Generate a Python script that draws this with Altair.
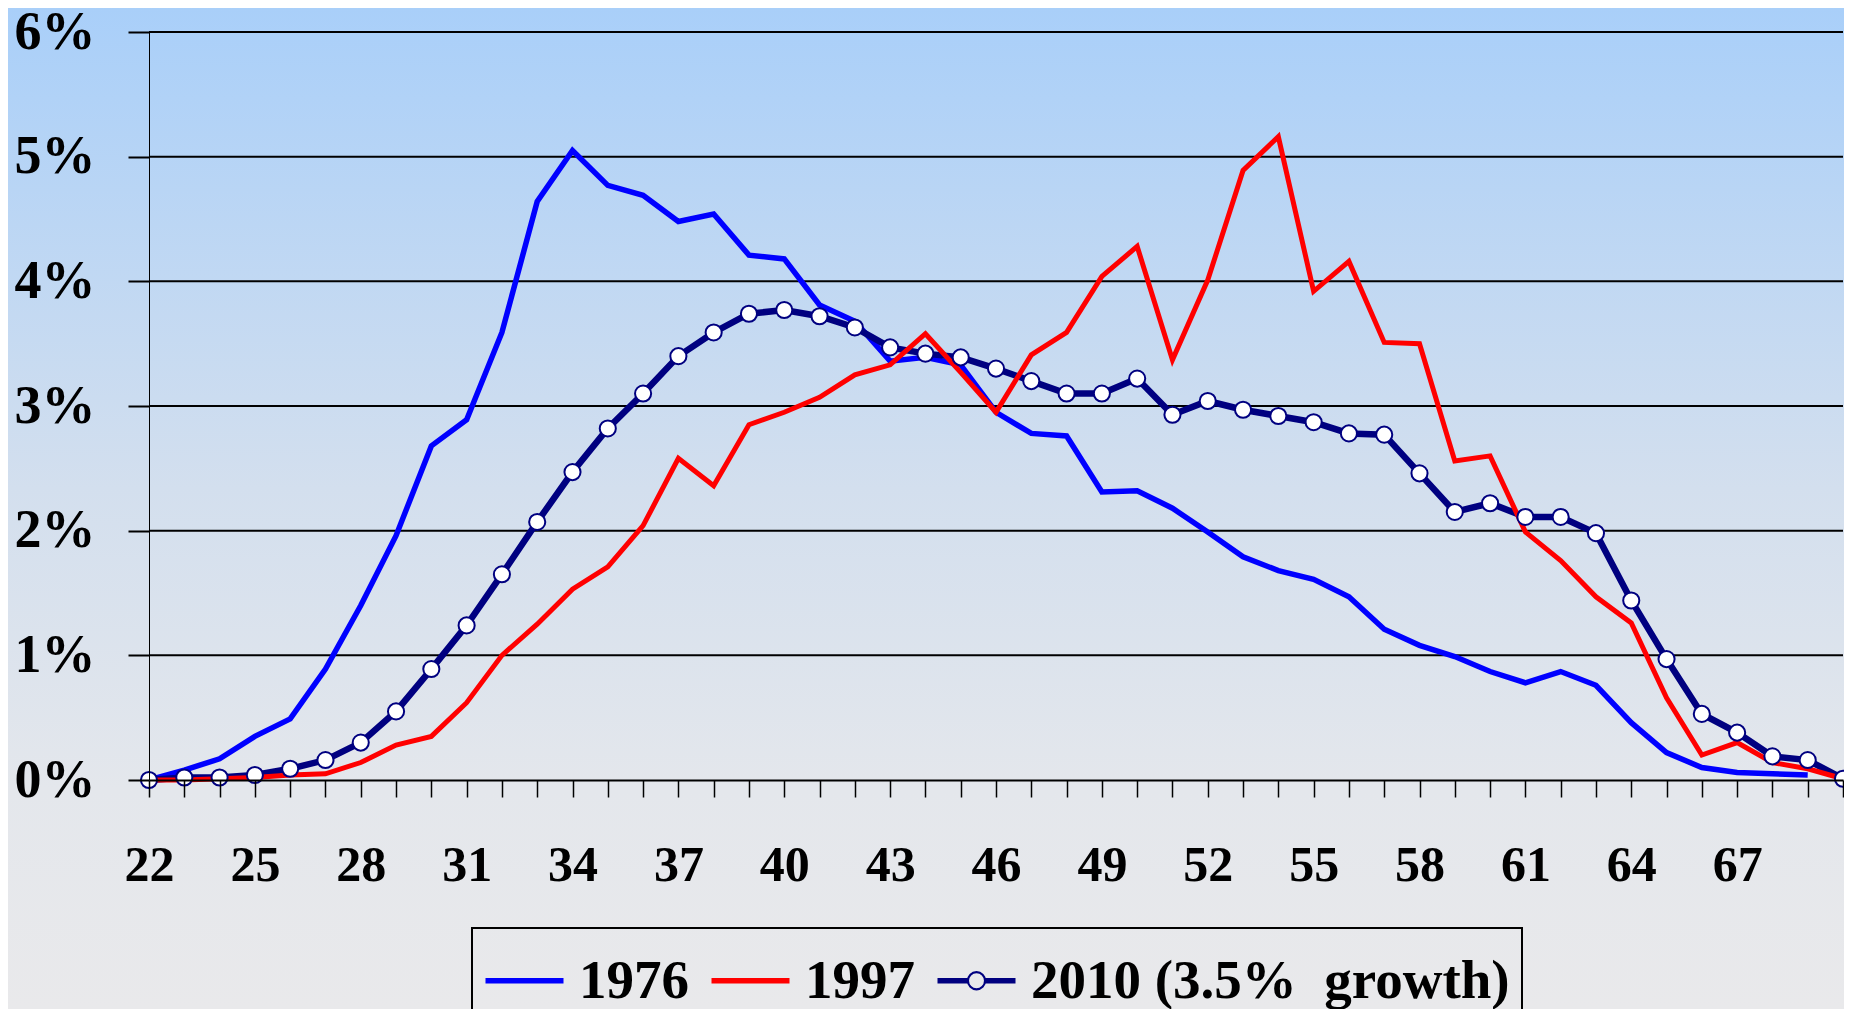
import altair as alt
import pandas as pd

ages_1976 = list(range(22, 70))
ages_all = list(range(22, 71))

v1976 = [0.0, 0.08, 0.17, 0.35, 0.49, 0.89, 1.40, 1.96, 2.68, 2.89, 3.59, 4.64, 5.05, 4.77,
         4.69, 4.48, 4.54, 4.21, 4.18, 3.81, 3.68, 3.36, 3.39, 3.33, 2.95, 2.78, 2.76, 2.31,
         2.32, 2.18, 1.99, 1.79, 1.68, 1.61, 1.47, 1.21, 1.08, 0.99, 0.87, 0.78, 0.87, 0.76,
         0.46, 0.22, 0.10, 0.06, 0.05, 0.04]
v1997 = [0.0, 0.0, 0.01, 0.02, 0.04, 0.05, 0.14, 0.28, 0.35, 0.62, 1.00, 1.25, 1.53, 1.71,
         2.04, 2.58, 2.36, 2.85, 2.95, 3.07, 3.25, 3.33, 3.58, 3.27, 2.95, 3.41, 3.59, 4.04,
         4.28, 3.37, 4.01, 4.89, 5.16, 3.92, 4.16, 3.51, 3.50, 2.56, 2.60, 1.99, 1.76, 1.47,
         1.26, 0.66, 0.20, 0.30, 0.14, 0.09, 0.01]
v2010 = [0.0, 0.02, 0.02, 0.04, 0.09, 0.16, 0.30, 0.55, 0.89, 1.24, 1.65, 2.07, 2.47, 2.82,
         3.10, 3.40, 3.59, 3.74, 3.77, 3.72, 3.63, 3.47, 3.42, 3.39, 3.30, 3.20, 3.10, 3.10,
         3.22, 2.93, 3.04, 2.97, 2.92, 2.87, 2.78, 2.77, 2.46, 2.15, 2.22, 2.11, 2.11, 1.98,
         1.44, 0.97, 0.53, 0.38, 0.19, 0.16, 0.01]

names = ["1976", "1997", "2010 (3.5%\u00a0 growth)"]
colors = ["#0000FF", "#FF0000", "#000080"]
y_ticks = [0, 1, 2, 3, 4, 5, 6]

rows = []
for a, v in zip(ages_1976, v1976):
    rows.append({"series": names[0], "age": a, "value": v})
for a, v in zip(ages_all, v1997):
    rows.append({"series": names[1], "age": a, "value": v})
for a, v in zip(ages_all, v2010):
    rows.append({"series": names[2], "age": a, "value": v})
df = pd.DataFrame(rows)

FONT = "Liberation Serif"
W, H = 1694, 748
PAD = {"left": 141, "top": 24, "right": 1, "bottom": 229}

xs = alt.Scale(domain=[22, 70], nice=False, zero=False)
ys = alt.Scale(domain=[0, 6], nice=False, zero=False)
cs = alt.Scale(domain=names, range=colors)

line_path = "M-1,-0.04L1,-0.04M-1,0L1,0M-1,0.04L1,0.04"
circ_path = ("M-1,-0.04L-0.22,-0.04M-1,0L-0.22,0M-1,0.04L-0.22,0.04"
             "M0.22,-0.04L1,-0.04M0.22,0L1,0M0.22,0.04L1,0.04"
             "M-0.22,0A0.22,0.22 0 1,1 0.22,0A0.22,0.22 0 1,1 -0.22,0Z")
ss = alt.Scale(domain=names, range=[line_path, line_path, circ_path])

x_axis = alt.Axis(
    values=ages_all,
    labelExpr="((datum.value - 22) % 3 == 0 && datum.value <= 67) ? '' + datum.value : ''",
    title=None, grid=False, tickSize=17, tickWidth=1.5, tickColor="black",
    domainColor="black", domainWidth=2, labelFont=FONT, labelFontSize=50,
    labelFontWeight="bold", labelColor="black", labelPadding=43,
    labelFlush=False, labelOverlap=False, zindex=1)
y_axis = alt.Axis(
    values=y_ticks, labelExpr="datum.value + '%'", title=None, grid=False,
    tickSize=21, tickWidth=2, tickColor="black", domainColor="black", domainWidth=1,
    labelFont=FONT, labelFontSize=54, labelFontWeight="bold", labelColor="black",
    labelPadding=33, labelOverlap=False, labelFlush=False, zindex=1)

x_enc = alt.X("age:Q", scale=xs, axis=x_axis)
y_enc = alt.Y("value:Q", scale=ys, axis=y_axis)

bg = alt.Chart(alt.Data(values=[{"k": 1}])).mark_rect(
    fill=alt.LinearGradient(
        gradient="linear",
        stops=[alt.GradientStop(color="#A9CFF9", offset=0),
               alt.GradientStop(color="#D3DFEE", offset=0.48),
               alt.GradientStop(color="#E4E7EC", offset=0.78),
               alt.GradientStop(color="#E9E9EB", offset=1)],
        x1=0, x2=0, y1=0, y2=1)
).encode(x=alt.value(-141), x2=alt.value(W + 1), y=alt.value(-24), y2=alt.value(H + 229))

grid = alt.Chart(pd.DataFrame({"value": y_ticks[1:]})).mark_rule(
    color="black", strokeWidth=2).encode(y=y_enc)

base = alt.Chart(df)

blue = base.transform_filter(alt.datum.series == names[0]).mark_line(
    strokeWidth=5.5, color=colors[0]).encode(x=x_enc, y=y_enc)
navy_line = base.transform_filter(alt.datum.series == names[2]).mark_line(
    strokeWidth=6.5, color=colors[2]).encode(x=x_enc, y=y_enc)
red = base.transform_filter(alt.datum.series == names[1]).mark_line(
    strokeWidth=5, color=colors[1]).encode(x=x_enc, y=y_enc)
dots = base.transform_filter(alt.datum.series == names[2]).mark_point(
    shape="circle", filled=True, fill="white", stroke=colors[2], strokeWidth=2,
    size=260, opacity=1).encode(x=x_enc, y=y_enc)

leg = alt.Legend(orient="none", legendX=323, legendY=896, direction="horizontal",
                 columns=3, title=None, symbolSize=6084, symbolStrokeWidth=2.2,
                 symbolFillColor="white", symbolOpacity=1, labelFont=FONT,
                 labelFontSize=55, labelFontWeight="bold", labelColor="black",
                 labelOffset=14, columnPadding=18, padding=12, strokeColor="black",
                 labelLimit=0, zindex=2)

leg_df = pd.DataFrame({"series": names, "age": [22, 22, 22], "value": [-5, -5, -5]})
legend_layer = alt.Chart(leg_df).mark_point(clip=True, filled=False, size=50).encode(
    x=x_enc, y=y_enc,
    color=alt.Color("series:N", scale=cs, legend=leg),
    shape=alt.Shape("series:N", scale=ss, legend=leg))

chart = alt.layer(bg, grid, blue, navy_line, red, dots, legend_layer).properties(
    width=W, height=H, padding=PAD,
    autosize=alt.AutoSizeParams(type="none"),
    background="#E9E9EB"
).configure_view(stroke=None).configure_legend(strokeWidth=2)

chart.save("out.html", embed_options={"renderer": "svg", "actions": False})
